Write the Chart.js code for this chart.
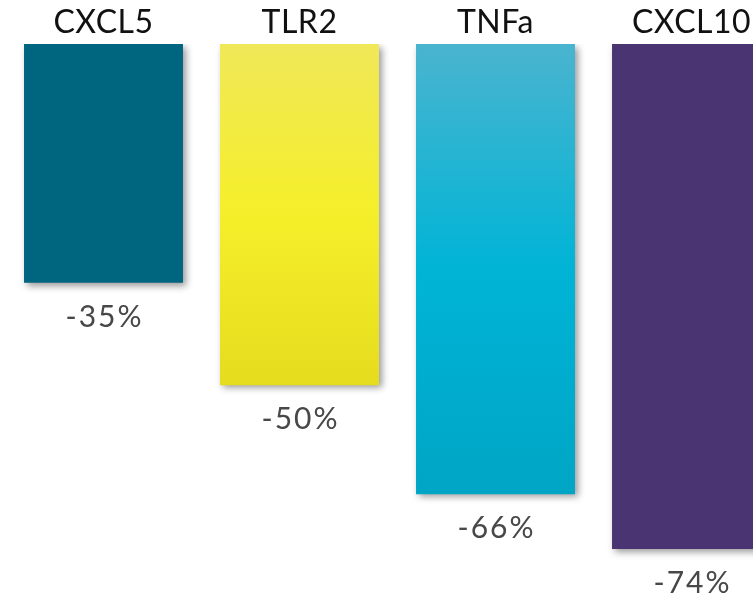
<!DOCTYPE html>
<html>
<head>
<meta charset="utf-8">
<script src="https://cdn.jsdelivr.net/npm/chart.js@4.4.1/dist/chart.umd.min.js"></script>
<style>
  html, body { margin: 0; padding: 0; background: #fff; overflow: hidden; }
  #wrap { width: 795px; height: 594px; }
</style>
</head>
<body>
<div id="wrap"><canvas id="chart"></canvas></div>
<script>
const categories = ["CXCL5", "TLR2", "TNFa", "CXCL10"];
const values = [-35, -50, -66, -74];
const valueLabels = ["-35%", "-50%", "-66%", "-74%"];

// colour stops per bar (top, middle, bottom)
const barColors = [
  ["#00657f", "#00657f", "#00657f"],
  ["#f0e858", "#f5ef2a", "#e6dc1e"],
  ["#4ab4cf", "#00b4d6", "#00a5c5"],
  ["#4b3472", "#4b3472", "#4b3472"]
];

const barFill = (ctx) => {
  const chart = ctx.chart;
  const i = ctx.dataIndex;
  const c = barColors[i];
  if (!chart.chartArea || !chart.scales.y) return c[1];
  const y0 = chart.scales.y.getPixelForValue(0);
  const y1 = chart.scales.y.getPixelForValue(values[i]);
  const g = chart.ctx.createLinearGradient(0, y0, 0, y1);
  g.addColorStop(0, c[0]);
  g.addColorStop(0.5, c[1]);
  g.addColorStop(1, c[2]);
  return g;
};

const shadowPlugin = {
  id: "shadow",
  beforeDatasetDraw(chart) {
    const ctx = chart.ctx;
    ctx.save();
    ctx.shadowColor = "rgba(0,0,0,0.4)";
    ctx.shadowBlur = 7;
    ctx.shadowOffsetX = 3;
    ctx.shadowOffsetY = 3;
  },
  afterDatasetDraw(chart) {
    chart.ctx.restore();
  }
};

const labelPlugin = {
  id: "labels",
  afterDatasetsDraw(chart) {
    const ctx = chart.ctx;
    const x = chart.scales.x, y = chart.scales.y;
    ctx.save();
    ctx.textAlign = "center";
    ctx.textBaseline = "middle";
    categories.forEach((name, i) => {
      const px = x.getPixelForValue(i);
      ctx.font = "32px Lato";
      ctx.fillStyle = "#111";
      ctx.letterSpacing = "0.5px";
      ctx.fillText(name, px, chart.chartArea.top - 21);
      ctx.font = "30px Lato";
      ctx.fillStyle = "#484848";
      ctx.letterSpacing = "2px";
      ctx.fillText(valueLabels[i], px + 1, y.getPixelForValue(values[i]) + 34);
    });
    ctx.restore();
  }
};

new Chart(document.getElementById("chart"), {
  type: "bar",
  data: {
    labels: categories,
    datasets: [{
      data: values,
      backgroundColor: barFill,
      borderWidth: 0,
      barPercentage: 0.811,
      categoryPercentage: 1
    }]
  },
  options: {
    responsive: true,
    maintainAspectRatio: false,
    animation: false,
    layout: { padding: { top: 44, left: 5.5, right: 5.5, bottom: 0 } },
    plugins: { legend: { display: false }, tooltip: { enabled: false } },
    scales: {
      x: { display: false },
      y: { display: false, min: -80.6, max: 0 }
    }
  },
  plugins: [shadowPlugin, labelPlugin]
});
</script>
</body>
</html>
